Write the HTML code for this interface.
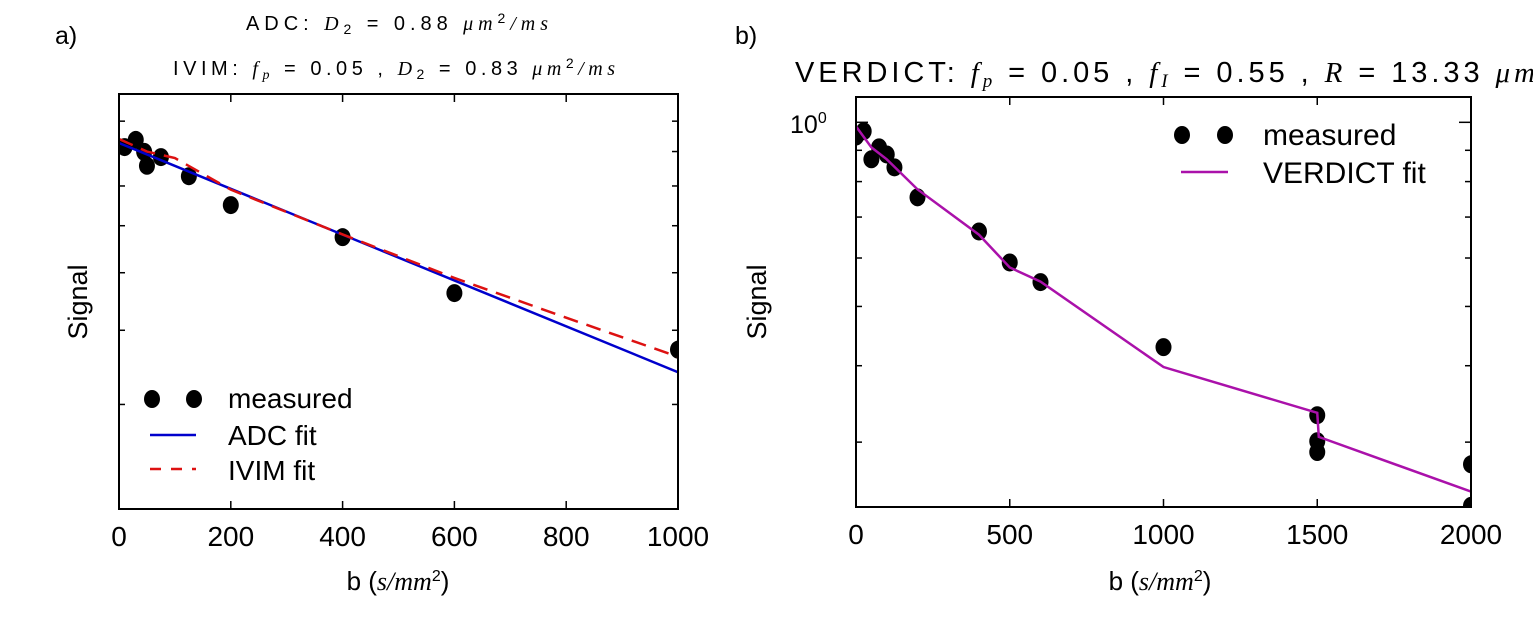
<!DOCTYPE html>
<html><head><meta charset="utf-8"><style>
body{margin:0;background:#fff;width:1533px;height:613px;overflow:hidden}
svg{font-family:"Liberation Sans","DejaVu Sans",sans-serif}
.it{font-family:"Liberation Serif","DejaVu Serif",serif;font-style:italic}
</style></head><body>
<svg id="s" width="1533" height="613">
<text x="55" y="44" font-size="25">a)</text>
<text x="735" y="44" font-size="25">b)</text>
<text x="246" y="30" font-size="20" textLength="302" lengthAdjust="spacing">ADC: <tspan class="it">D</tspan><tspan font-size="14" dy="4">2</tspan><tspan dy="-4"> = 0.88 </tspan><tspan class="it">μm</tspan><tspan font-size="14" dy="-7">2</tspan><tspan class="it" dy="7">/ms</tspan></text>
<text x="173" y="75" font-size="20" textLength="442" lengthAdjust="spacing">IVIM: <tspan class="it">f</tspan><tspan class="it" font-size="14" dy="4">p</tspan><tspan dy="-4"> = 0.05 , </tspan><tspan class="it">D</tspan><tspan font-size="14" dy="4">2</tspan><tspan dy="-4"> = 0.83 </tspan><tspan class="it">μm</tspan><tspan font-size="14" dy="-7">2</tspan><tspan class="it" dy="7">/ms</tspan></text>
<text x="795" y="82" font-size="29" textLength="740" lengthAdjust="spacing">VERDICT: <tspan class="it">f</tspan><tspan class="it" font-size="19" dy="5">p</tspan><tspan dy="-5"> = 0.05 , </tspan><tspan class="it">f</tspan><tspan class="it" font-size="19" dy="5">I</tspan><tspan dy="-5"> = 0.55 , </tspan><tspan class="it">R</tspan><tspan> = 13.33 </tspan><tspan class="it">μm</tspan></text>
<g id="A"></g><g id="B"></g>
</svg>
<script>
const aB=[10,30,45,50,75,125,200,400,600,1000];
const aS=[0.814,0.837,0.799,0.757,0.783,0.727,0.650,0.574,0.462,0.371];
const adcB=[0,1000];
const adcS=[0.827,0.34];
const ivimB=[0,50,100,200,400,600,800,1000];
const ivimS=[0.84,0.80,0.78,0.69,0.58,0.49,0.42,0.361];
const aTicks=[0,200,400,600,800,1000];
const bB=[0,25,50,75,100,125,200,400,500,600,1000,1500,1500,1500,2000,2000];
const bS=[0.948,0.967,0.870,0.910,0.886,0.844,0.754,0.663,0.590,0.548,0.429,0.332,0.301,0.289,0.276,0.236];
const fitB=[0,50,100,200,400,500,600,1000,1500,1505,2000];
const fitS=[0.985,0.91,0.870,0.777,0.655,0.579,0.549,0.398,0.335,0.306,0.249];
const bTicks=[0,500,1000,1500,2000];
const minorVals=[0.2,0.3,0.4,0.5,0.6,0.7,0.8,0.9,1.0];
const NS="http://www.w3.org/2000/svg";
function mk(p,t,a){const e=document.createElementNS(NS,t);for(const k in a)e.setAttribute(k,a[k]);p.appendChild(e);return e;}
function panel(g,L,R,T,Bt,xmax,ymin,ymax,ticks,showOne){
 const X=v=>L+(R-L)*v/xmax;
 const Y=v=>T+(Bt-T)*(Math.log(ymax)-Math.log(v))/(Math.log(ymax)-Math.log(ymin));
 ticks.forEach(t=>{
  let l=mk(g,'line',{x1:X(t),x2:X(t),y1:Bt,y2:Bt-8,stroke:'#000','stroke-width':1.5});
  
  
  l=mk(g,'line',{x1:X(t),x2:X(t),y1:T,y2:T+8,stroke:'#000','stroke-width':1.5});
  
  
  const tx=mk(g,'text',{x:X(t),y:Bt+37,'font-size':28,'text-anchor':'middle'});tx.textContent=t;
  
  
 });
 minorVals.forEach(v=>{ if(v<ymin||v>ymax)return;
  const len=v===1.0&&showOne?12:6;
  let l=mk(g,'line',{x1:L,x2:L+len,y1:Y(v),y2:Y(v),stroke:'#000','stroke-width':1.5});
  
  
  l=mk(g,'line',{x1:R,x2:R-len,y1:Y(v),y2:Y(v),stroke:'#000','stroke-width':1.5});
  
  
 });
 return {X,Y};
}
function frame(g,L,R,T,Bt){const r=mk(g,'rect',{x:L,y:T,width:R-L,height:Bt-T,fill:'none',stroke:'#000','stroke-width':2});
 
 }
function clip(id,L,R,T,Bt){const d=mk(document.getElementById('s'),'defs',{});const c=mk(d,'clipPath',{id:id});mk(c,'rect',{x:L,y:T,width:R-L,height:Bt-T});}
function line(g,s,xs,ys,attrs,name,cid){const p=mk(g,'polyline',Object.assign({points:xs.map((b,i)=>s.X(b)+','+s.Y(ys[i])).join(' '),fill:'none','clip-path':'url(#'+cid+')'},attrs));
 
 }
function dots(g,s,xs,ys,cid){xs.forEach((b,i)=>{const c=mk(g,'ellipse',{cx:s.X(b),cy:s.Y(ys[i]),rx:8,ry:9,fill:'#000','clip-path':'url(#'+cid+')'});
 
 });}
const gA=document.getElementById('A');
clip('ca',119,678,94,509);
const sA=panel(gA,119,678,94,509,1000,0.2,1.0,aTicks,false);
dots(gA,sA,aB,aS,'ca');
line(gA,sA,adcB,adcS,{stroke:'#0000cc','stroke-width':2.5},'adc-fit-line','ca');
line(gA,sA,ivimB,ivimS,{stroke:'#dd1111','stroke-width':2.5,'stroke-dasharray':'15,9'},'ivim-fit-line','ca');
frame(gA,119,678,94,509);
const gB=document.getElementById('B');
clip('cb',856,1471,97,507);
const sB=panel(gB,856,1471,97,507,2000,0.235,1.1,bTicks,true);
dots(gB,sB,bB,bS,'cb');
line(gB,sB,fitB,fitS,{stroke:'#aa11aa','stroke-width':2.5},'verdict-fit-line','cb');
frame(gB,856,1471,97,507);
</script>
<svg style="position:absolute;left:0;top:0" width="1533" height="613">
<g font-family="Liberation Sans, sans-serif">
<text x="87" y="302" font-size="27" text-anchor="middle" transform="rotate(-90 87 302)">Signal</text>
<text x="766" y="302" font-size="27" text-anchor="middle" transform="rotate(-90 766 302)">Signal</text>
<text x="398" y="590" font-size="26" text-anchor="middle">b (<tspan font-family="Liberation Serif, serif" font-style="italic">s/mm</tspan><tspan font-size="16" dy="-9">2</tspan><tspan dy="9">)</tspan></text>
<text x="1160" y="590" font-size="26" text-anchor="middle">b (<tspan font-family="Liberation Serif, serif" font-style="italic">s/mm</tspan><tspan font-size="16" dy="-9">2</tspan><tspan dy="9">)</tspan></text>
<text x="790" y="133" font-size="25">10<tspan font-size="16" dy="-10">0</tspan></text>
<g>
<ellipse cx="152" cy="399" rx="8" ry="9" fill="#000"/><ellipse cx="194" cy="399" rx="8" ry="9" fill="#000"/>
<text x="228" y="408" font-size="28">measured</text>
<line x1="150" x2="196" y1="435" y2="435" stroke="#0000cc" stroke-width="2.5"/>
<text x="228" y="445" font-size="28">ADC fit</text>
<line x1="150" x2="196" y1="469" y2="469" stroke="#dd1111" stroke-width="2.5" stroke-dasharray="11,10"/>
<text x="228" y="480" font-size="28">IVIM fit</text>
</g>
<g>
<ellipse cx="1182" cy="135" rx="8" ry="9" fill="#000"/><ellipse cx="1225" cy="135" rx="8" ry="9" fill="#000"/>
<text x="1263" y="145" font-size="30">measured</text>
<line x1="1181" x2="1228" y1="172" y2="172" stroke="#aa11aa" stroke-width="2.5"/>
<text x="1263" y="183" font-size="30">VERDICT fit</text>
</g>
</g></svg>
</body></html>
